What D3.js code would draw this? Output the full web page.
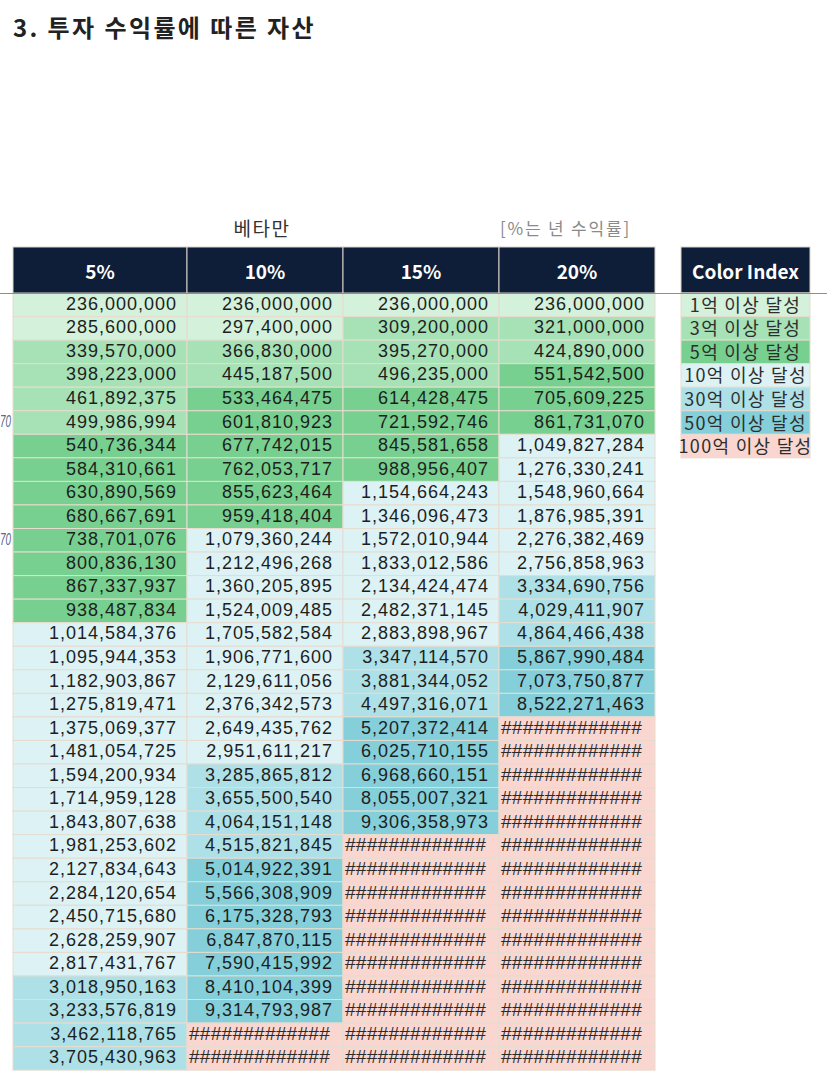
<!DOCTYPE html>
<html>
<head>
<meta charset="utf-8">
<script src="https://cdn.jsdelivr.net/npm/d3@7"></script>
<style>
  html, body { margin: 0; padding: 0; background: #fff; }
  svg { display: block; }
  .num { font-family: "Liberation Sans", Arial, sans-serif; font-size: 18px; fill: #1e1e1e; letter-spacing: 1px; }
  .hash { font-family: "Liberation Sans", Arial, sans-serif; font-size: 18px; fill: #2a2a2a; letter-spacing: 0.2px; }
  .head { font-family: "Noto Sans CJK KR", sans-serif; font-weight: 700; font-size: 19px; fill: #fff; }
  .legend-text { font-family: "Noto Sans CJK KR", sans-serif; font-size: 18px; fill: #2e2e2e; letter-spacing: 1.3px; }
</style>
</head>
<body>
<svg id="chart"></svg>
<script>
// 년 수익률별 컬럼
const rates = ["5%", "10%", "15%", "20%"];

// 각 컬럼의 연도별 자산 (null = 셀에 ##### 로 표시된 값)
const values5 = [236000000, 285600000, 339570000, 398223000, 461892375, 499986994, 540736344, 584310661,
    630890569, 680667691, 738701076, 800836130, 867337937, 938487834, 1014584376, 1095944353, 1182903867,
    1275819471, 1375069377, 1481054725, 1594200934, 1714959128, 1843807638, 1981253602, 2127834643,
    2284120654, 2450715680, 2628259907, 2817431767, 3018950163, 3233576819, 3462118765, 3705430963];
const values10 = [236000000, 297400000, 366830000, 445187500, 533464475, 601810923, 677742015, 762053717,
    855623464, 959418404, 1079360244, 1212496268, 1360205895, 1524009485, 1705582584, 1906771600, 2129611056,
    2376342573, 2649435762, 2951611217, 3285865812, 3655500540, 4064151148, 4515821845, 5014922391,
    5566308909, 6175328793, 6847870115, 7590415992, 8410104399, 9314793987, null, null];
const values15 = [236000000, 309200000, 395270000, 496235000, 614428475, 721592746, 845581658, 988956407,
    1154664243, 1346096473, 1572010944, 1833012586, 2134424474, 2482371145, 2883898967, 3347114570, 3881344052,
    4497316071, 5207372414, 6025710155, 6968660151, 8055007321, 9306358973, null, null,
    null, null, null, null, null, null, null, null];
const values20 = [236000000, 321000000, 424890000, 551542500, 705609225, 861731070, 1049827284, 1276330241,
    1548960664, 1876985391, 2276382469, 2756858963, 3334690756, 4029411907, 4864466438, 5867990484, 7073750877,
    8522271463, null, null, null, null, null, null, null,
    null, null, null, null, null, null, null, null];

// 색상 기준
const thresholds = [300000000, 500000000, 1000000000, 3000000000, 5000000000, 10000000000];
const legendLabels = ["1억 이상 달성", "3억 이상 달성", "5억 이상 달성", "10억 이상 달성",
    "30억 이상 달성", "50억 이상 달성", "100억 이상 달성"];
const tierColors = ["#d3f1db", "#a7e1b6", "#77d08f", "#dcf2f5", "#aee0e7", "#85cfda", "#f9d6d0"];

const titleText = "3. 투자 수익률에 따른 자산";
const subTitle = "베타만";
const noteText = "[%는 년 수익률]";
const hashText = "#############";

const columns = [values5, values10, values15, values20];

const config = {
    width: 827,
    height: 1088,
    headTop: 247,
    headBottom: 293,
    rowHeight: 23.55,
    colEdges: [13, 187, 343, 499, 655],
    legendLeft: 681,
    legendRight: 810,
    pad: 10
};

const svg = d3.select("#chart")
    .attr("width", config.width)
    .attr("height", config.height);

const nRows = values5.length;

// row scale
const yScale = d3.scaleBand()
    .domain(d3.range(nRows))
    .range([config.headBottom, config.headBottom + nRows * config.rowHeight])
    .paddingInner(0);

// column scale (left edge / width per column)
const xLeft = d3.scaleOrdinal().domain(rates).range(config.colEdges.slice(0, 4));
const xWidth = d3.scaleOrdinal().domain(rates)
    .range(d3.pairs(config.colEdges).map(p => p[1] - p[0]));

const colorScale = d3.scaleThreshold()
    .domain(thresholds)
    .range(tierColors);

const fmt = d3.format(",");

// title
svg.append("text")
    .attr("x", 13)
    .attr("y", 37)
    .attr("font-family", "Noto Sans CJK KR, sans-serif")
    .attr("font-weight", 700)
    .attr("font-size", 24)
    .attr("letter-spacing", 2.4)
    .attr("fill", "#222")
    .text(titleText);

svg.append("text")
    .attr("x", 262)
    .attr("y", 236)
    .attr("text-anchor", "middle")
    .attr("font-family", "Noto Sans CJK KR, sans-serif")
    .attr("font-size", 19)
    .attr("letter-spacing", 1.5)
    .attr("fill", "#333")
    .text(subTitle);

svg.append("text")
    .attr("x", 500)
    .attr("y", 235)
    .attr("font-family", "Noto Sans CJK KR, sans-serif")
    .attr("font-size", 17)
    .attr("letter-spacing", 1.8)
    .attr("fill", "#8a8a8a")
    .text(noteText);

// flatten cells
const cells = [];
rates.forEach((r, ci) => {
    columns[ci].forEach((v, ri) => cells.push({rate: r, row: ri, value: v}));
});

const cellG = svg.append("g");

cellG.selectAll(".cell")
    .data(cells)
    .join("rect")
    .attr("class", "cell")
    .attr("x", d => xLeft(d.rate))
    .attr("y", d => yScale(d.row))
    .attr("width", d => xWidth(d.rate))
    .attr("height", yScale.bandwidth())
    .attr("fill", d => d.value === null ? tierColors[tierColors.length - 1] : colorScale(d.value))
    .attr("stroke", "#e6dccf")
    .attr("stroke-width", 1);

cellG.selectAll(".cell-text")
    .data(cells)
    .join("text")
    .attr("class", d => d.value === null ? "cell-text hash" : "cell-text num")
    .attr("x", d => d.value === null ? xLeft(d.rate) + 2 : xLeft(d.rate) + xWidth(d.rate) - config.pad)
    .attr("y", d => yScale(d.row) + yScale.bandwidth() / 2 - 1)
    .attr("text-anchor", d => d.value === null ? "start" : "end")
    .attr("dominant-baseline", "central")
    .attr("textLength", d => d.value === null ? 141 : null)
    .attr("lengthAdjust", "spacingAndGlyphs")
    .text(d => d.value === null ? hashText : fmt(d.value));

// header
const headG = svg.append("g");

headG.selectAll(".head-rect")
    .data(rates)
    .join("rect")
    .attr("class", "head-rect")
    .attr("x", d => xLeft(d))
    .attr("y", config.headTop)
    .attr("width", d => xWidth(d))
    .attr("height", config.headBottom - config.headTop)
    .attr("fill", "#0e1d38")
    .attr("stroke", "#d9d2c8")
    .attr("stroke-width", 1);

headG.selectAll(".head")
    .data(rates)
    .join("text")
    .attr("class", "head")
    .attr("x", d => xLeft(d) + xWidth(d) / 2)
    .attr("y", (config.headTop + config.headBottom) / 2)
    .attr("text-anchor", "middle")
    .attr("dominant-baseline", "central")
    .text(d => d);

// color index legend
const legendG = svg.append("g");

legendG.append("rect")
    .attr("x", config.legendLeft)
    .attr("y", config.headTop)
    .attr("width", config.legendRight - config.legendLeft)
    .attr("height", config.headBottom - config.headTop)
    .attr("fill", "#0e1d38")
    .attr("stroke", "#d9d2c8");

legendG.append("text")
    .attr("class", "head")
    .attr("x", (config.legendLeft + config.legendRight) / 2)
    .attr("y", (config.headTop + config.headBottom) / 2)
    .attr("text-anchor", "middle")
    .attr("dominant-baseline", "central")
    .text("Color Index");

legendG.selectAll(".legend-rect")
    .data(legendLabels)
    .join("rect")
    .attr("class", "legend-rect")
    .attr("x", config.legendLeft)
    .attr("y", (d, i) => yScale(i))
    .attr("width", config.legendRight - config.legendLeft)
    .attr("height", yScale.bandwidth())
    .attr("fill", (d, i) => tierColors[i])
    .attr("stroke", "#e6dccf");

legendG.selectAll(".legend-text")
    .data(legendLabels)
    .join("text")
    .attr("class", "legend-text")
    .attr("x", (config.legendLeft + config.legendRight) / 2)
    .attr("y", (d, i) => yScale(i) + yScale.bandwidth() / 2 - 1)
    .attr("text-anchor", "middle")
    .attr("dominant-baseline", "central")
    .text(d => d);

// partly hidden text of a narrow column at the left edge
[5, 10].forEach(ri => {
    svg.append("text")
        .attr("x", 0)
        .attr("y", yScale(ri) + yScale.bandwidth() / 2 - 1)
        .attr("dominant-baseline", "central")
        .attr("font-family", "Liberation Sans, Arial, sans-serif")
        .attr("font-style", "italic")
        .attr("font-size", 16)
        .attr("fill", "#5b6785")
        .attr("textLength", 11)
        .attr("lengthAdjust", "spacingAndGlyphs")
        .text("70");
});

// freeze pane line
svg.append("line")
    .attr("x1", 0)
    .attr("x2", config.width)
    .attr("y1", config.headBottom + 0.5)
    .attr("y2", config.headBottom + 0.5)
    .attr("stroke", "#c77a5c")
    .attr("stroke-width", 1.2);
</script>
</body>
</html>
